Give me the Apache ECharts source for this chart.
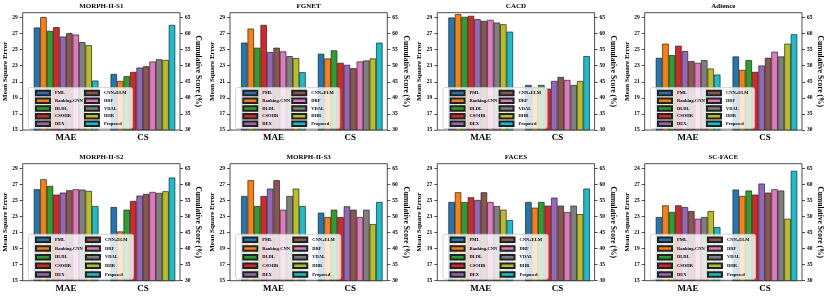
<!DOCTYPE html>
<html><head><meta charset="utf-8">
<script src="https://cdn.jsdelivr.net/npm/echarts@6/dist/echarts.min.js"></script>
<style>html,body{margin:0;padding:0;background:#fff}#c{width:831px;height:298px}</style>
</head><body><div id="c"></div>
<script>
// ---------- data ----------
const methods = ['PML','Ranking-CNN','DLDL','CSOHR','DEX','CNN+ELM','DRF','VDAL','DHR','Proposed'];
const colors = ['#1f77b4','#ff7f0e','#2ca02c','#d62728','#9467bd','#8c564b','#e377c2','#7f7f7f','#bcbd22','#17becf'];
const groups = ['MAE','CS'];
const panelTitles = ['MORPH-II-S1','FGNET','CACD','Adience','MORPH-II-S2','MORPH-II-S3','FACES','SC-FACE'];

const maeMorphS1 = [27.75, 29.04, 27.34, 27.80, 26.63, 27.05, 26.88, 25.93, 25.55, 21.15];
const csMorphS1  = [47.45, 45.26, 46.72, 48.07, 49.42, 49.83, 51.29, 52.00, 51.80, 62.70];
const maeFgnet   = [25.87, 27.62, 25.24, 28.08, 24.69, 25.24, 24.78, 24.19, 23.94, 22.19];
const csFgnet    = [53.72, 52.26, 54.77, 50.90, 50.27, 49.23, 51.32, 51.63, 52.26, 57.17];
const maeCacd    = [29.00, 29.42, 29.08, 29.21, 28.79, 28.58, 28.71, 28.37, 28.16, 27.24];
const csCacd     = [44.00, 43.06, 44.00, 42.85, 45.26, 46.51, 45.57, 44.00, 45.26, 52.99];
const maeAdience = [23.98, 25.74, 24.32, 25.49, 24.82, 23.57, 23.36, 23.69, 22.65, 21.90];
const csAdience  = [52.88, 48.70, 51.73, 48.08, 50.06, 52.47, 54.35, 52.88, 56.86, 59.78];
const maeMorphS2 = [26.41, 27.66, 26.83, 25.74, 25.99, 26.28, 26.41, 26.37, 26.20, 24.32];
const csMorphS2  = [52.99, 45.36, 52.15, 54.87, 56.54, 57.06, 57.69, 57.38, 57.90, 62.18];
const maeMorphS3 = [25.57, 27.54, 24.32, 25.57, 26.49, 27.54, 23.86, 25.57, 26.49, 24.32];
const csMorphS3  = [51.21, 49.85, 52.15, 49.85, 53.20, 52.15, 49.85, 52.15, 47.66, 54.56];
const maeFaces   = [24.82, 26.03, 24.82, 25.41, 25.07, 26.03, 24.82, 24.32, 23.86, 22.56];
const csFaces    = [54.56, 52.78, 54.56, 53.41, 55.91, 53.41, 51.42, 53.41, 50.79, 58.74];
const maeScFace  = [22.94, 24.40, 23.57, 24.40, 24.19, 23.69, 22.73, 22.94, 23.69, 21.69];
const csScFace   = [58.42, 56.44, 58.11, 56.85, 60.30, 57.48, 58.53, 58.11, 49.33, 64.27];

const mseTicks = [15, 17, 19, 21, 23, 25, 27, 29];
const mseTickLabels = ['15','17','19','21','23','25','27','29'];
const mseTickLabelsScFace = ['15','17','19','21','23','25','27','24'];
const csTicks = [30, 35, 40, 45, 50, 55, 60, 65];
const csTickLabels = ['30','35','40','45','50','55','60','65'];

const maeSets = [maeMorphS1, maeFgnet, maeCacd, maeAdience, maeMorphS2, maeMorphS3, maeFaces, maeScFace];
const csSets  = [csMorphS1, csFgnet, csCacd, csAdience, csMorphS2, csMorphS3, csFaces, csScFace];
const tickLabelSets = [mseTickLabels, mseTickLabels, mseTickLabels, mseTickLabels, mseTickLabels, mseTickLabels, mseTickLabels, mseTickLabelsScFace];

// ---------- layout ----------
const W = 831, H = 298;
const FONT = 'Liberation Serif';
const colLeft = [22.7, 230.0, 437.3, 644.7];
const frameW = 157.3;
const rowTop = [12.7, 163.7];
const rowH = [117.3, 117.0];
const leftMin = 15, leftMax = 29.6, rightMin = 30, rightMax = 66.5;

const grid = [], xAxis = [], yAxis = [], series = [], title = [], legend = [];
const boldText = (size) => ({fontFamily: FONT, fontWeight: 'bold', fontSize: size, color: '#000'});

panelTitles.forEach((name, k) => {
  const col = k % 4, row = Math.floor(k / 4);
  const L = colLeft[col], T = rowTop[row], Hh = rowH[row];
  const labels = tickLabelSets[k];

  grid.push({left: L, top: T, width: frameW, height: Hh, show: true, borderColor: '#222', borderWidth: 0.8,
             backgroundColor: 'rgba(0,0,0,0)', containLabel: false, outerBoundsMode: 'none'});
  grid.push({left: L + 5.0, top: T, width: 153.6, height: Hh, show: false, containLabel: false, outerBoundsMode: 'none'});

  xAxis.push({gridIndex: 2*k, type: 'value', min: 0, max: 1, show: false});
  xAxis.push({gridIndex: 2*k+1, type: 'category', data: groups,
              axisLine: {show: false}, axisTick: {show: false},
              axisLabel: Object.assign({margin: 3, interval: 0}, boldText(9))});
  xAxis.push({gridIndex: 2*k+1, type: 'category', data: groups, show: false});

  yAxis.push({gridIndex: 2*k, type: 'value', position: 'left', min: leftMin, max: leftMax,
              name: 'Mean Square Error', nameLocation: 'middle', nameGap: 14, nameTextStyle: boldText(7),
              axisLine: {show: false}, splitLine: {show: false},
              axisTick: {show: true, length: 3, lineStyle: {color: '#222', width: 0.8}, customValues: mseTicks},
              axisLabel: Object.assign({customValues: mseTicks, margin: 5,
                formatter: (v) => { const i = mseTicks.indexOf(v); return i >= 0 ? labels[i] : ''; }}, boldText(5.5))});
  yAxis.push({gridIndex: 2*k, type: 'value', position: 'right', min: rightMin, max: rightMax,
              name: 'Cumulative Score (%)', nameLocation: 'middle', nameGap: 13, nameRotate: -90, nameTextStyle: boldText(7.5),
              axisLine: {show: false}, splitLine: {show: false},
              axisTick: {show: true, length: 3, lineStyle: {color: '#222', width: 0.8}, customValues: csTicks},
              axisLabel: Object.assign({customValues: csTicks, margin: 5,
                formatter: (v) => { const i = csTicks.indexOf(v); return i >= 0 ? csTickLabels[i] : ''; }}, boldText(5.5))});
  yAxis.push({gridIndex: 2*k+1, type: 'value', min: leftMin, max: leftMax, show: false});
  yAxis.push({gridIndex: 2*k+1, type: 'value', min: rightMin, max: rightMax, show: false});

  const mae = maeSets[k], cs = csSets[k];
  methods.forEach((m, i) => {
    const common = {type: 'bar', name: m, barGap: '0%', barCategoryGap: '15.8%',
                    itemStyle: {color: colors[i], borderColor: '#222', borderWidth: 0.7}, z: 2};
    series.push(Object.assign({xAxisIndex: 3*k+1, yAxisIndex: 4*k+2, data: [mae[i], '-']}, common));
    series.push(Object.assign({xAxisIndex: 3*k+2, yAxisIndex: 4*k+3, data: ['-', cs[i]]}, common));
  });

  title.push({text: name, left: L + frameW/2, top: T - 9.6, textAlign: 'center', padding: 0,
              textStyle: boldText(7)});

  legend.push({data: methods, orient: 'vertical', left: L + 5.6, bottom: H - (T + Hh) + 1.4,
               height: row === 0 ? 38.5 : 43, itemWidth: 14, itemHeight: 4.5, itemGap: row === 0 ? 1.2 : 2.2,
               icon: 'rect', padding: [2.2, 6, 1.5, 6.7],
               backgroundColor: 'rgba(255,255,255,0.8)', borderColor: '#c8c8c8', borderWidth: 0.8, borderRadius: 2,
               selectedMode: false, z: 10,
               textStyle: Object.assign({lineHeight: 5}, boldText(4.5))});
});

const chart = echarts.init(document.getElementById('c'), null, {renderer: 'canvas'});
chart.setOption({animation: false, backgroundColor: '#fff', title, grid, xAxis, yAxis, legend, series});
</script>
</body></html>
